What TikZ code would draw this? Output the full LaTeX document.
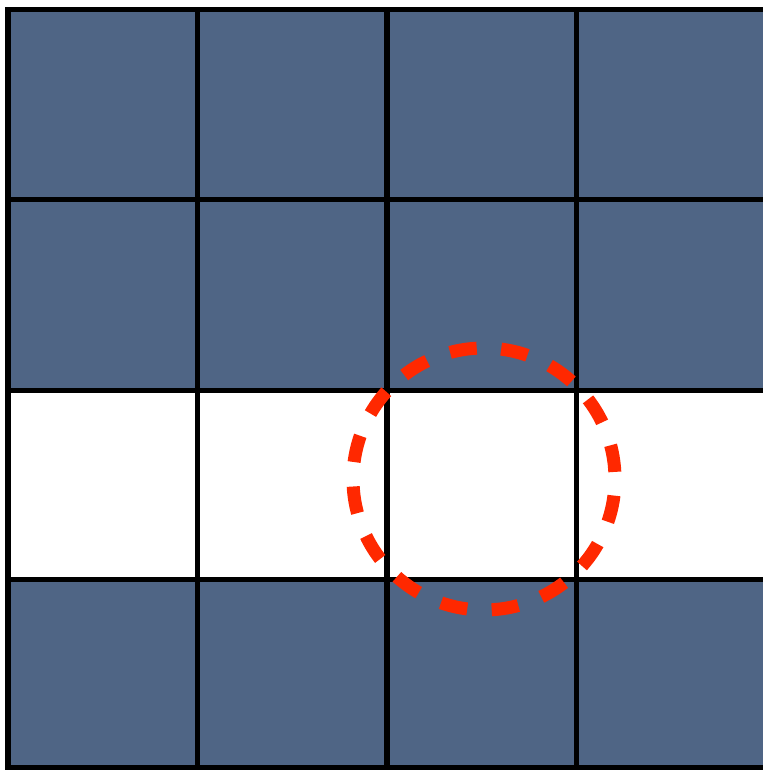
\documentclass[tikz,border=0pt]{standalone}
\definecolor{slate}{RGB}{79,101,133}
\definecolor{ringred}{RGB}{255,40,0}
\begin{document}
\begin{tikzpicture}[x=1pt,y=-1pt,
  tile/.style={fill=slate,draw=none},
  gridline/.style={draw=black,line width=5.5pt},
  ring/.style={draw=ringred,line width=13pt,dash pattern=on 27pt off 24.5pt,dash phase=34.9pt}]
\useasboundingbox (0,0) rectangle (763,770);
\fill[white] (0,0) rectangle (763,770);
% blue rows
\fill[tile] (8,9.5) rectangle (763,390.5);
\fill[tile] (8,579.5) rectangle (763,768);
% grid
\foreach \x in {8,197.5,387,576.5}
  \draw[gridline] (\x,9.5) -- (\x,768);
\foreach \y in {9.5,199.5,390.5,579.5,768}
  \draw[gridline] (5.25,\y) -- (763,\y);
% dashed ring
\draw[ring] (484,479) circle[radius=131];
\end{tikzpicture}
\end{document}
